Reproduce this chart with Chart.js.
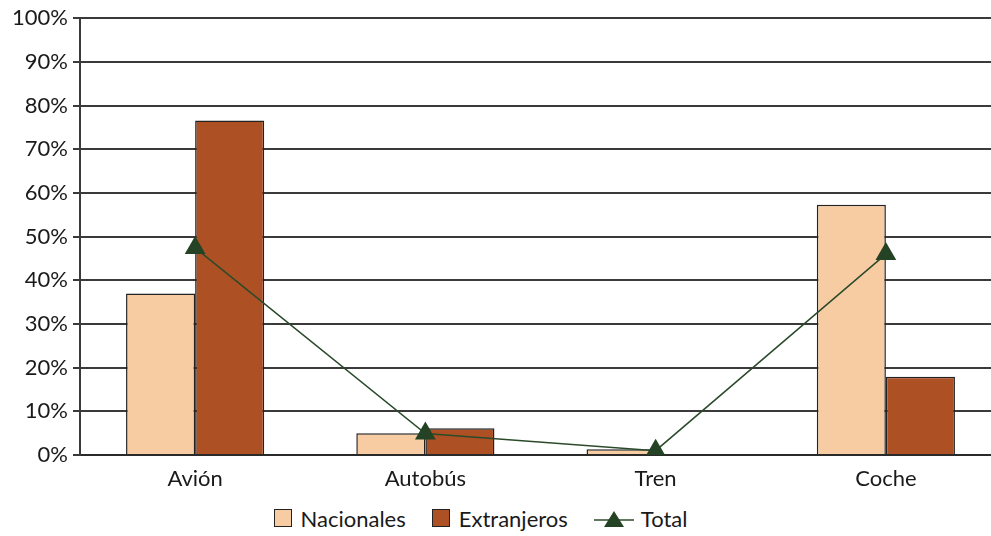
<!DOCTYPE html>
<html>
<head>
<meta charset="utf-8">
<script src="https://cdn.jsdelivr.net/npm/chart.js@4/dist/chart.umd.min.js"></script>
<style>
  body { margin: 0; background: #fff; overflow: hidden; font-family: Lato, sans-serif; }
  #wrap { position: relative; width: 1013px; height: 500px; }
  #legend { display: flex; justify-content: center; align-items: center; width: 991px; height: 36px;
            padding-right: 30px; box-sizing: border-box; font-size: 22px; color: #1a1a1a; }
  .item { display: flex; align-items: center; margin: 0 13px; }
  .box { width: 16px; height: 16px; border: 1.5px solid #222; margin-right: 9px; }
</style>
</head>
<body>
<div id="wrap"><canvas id="chart"></canvas></div>
<div id="legend">
  <div class="item"><span class="box" style="background:#f7cca3"></span>Nacionales</div>
  <div class="item"><span class="box" style="background:#ad5024"></span>Extranjeros</div>
  <div class="item">
    <svg width="40" height="20" style="margin-right:7px">
      <line x1="0" y1="12" x2="40" y2="12" stroke="#2b4a2b" stroke-width="1.5"/>
      <polygon points="20,3 30,19 10,19" fill="#244224"/>
    </svg>Total</div>
</div>
<script>
var categories = ["Avión", "Autobús", "Tren", "Coche"];
var nacionales = [37, 5, 1.3, 57.3];
var extranjeros = [76.6, 6.1, 0, 17.9];
var total = [47.4, 4.9, 1, 46];
var yTicks = [0, 10, 20, 30, 40, 50, 60, 70, 80, 90, 100];

var ctx = document.getElementById('chart').getContext('2d');
new Chart(ctx, {
  type: 'bar',
  data: {
    labels: categories,
    datasets: [{
      type: 'line',
      label: 'Total',
      data: total,
      borderColor: '#2b4a2b',
      borderWidth: 1.5,
      pointStyle: 'triangle',
      pointRadius: 12,
      pointBackgroundColor: '#244224',
      pointBorderColor: '#244224',
      pointBorderWidth: 0,
      tension: 0,
      order: 0
    }, {
      label: 'Nacionales',
      data: nacionales,
      backgroundColor: '#f7cca3',
      borderColor: '#222',
      borderWidth: 1.5,
      borderSkipped: 'bottom',
      categoryPercentage: 0.6,
      barPercentage: 1.0,
      order: 1
    }, {
      label: 'Extranjeros',
      data: extranjeros,
      backgroundColor: '#ad5024',
      borderColor: '#222',
      borderWidth: 1.5,
      borderSkipped: 'bottom',
      categoryPercentage: 0.6,
      barPercentage: 1.0,
      order: 1
    }]
  },
  options: {
    responsive: true,
    maintainAspectRatio: false,
    animation: false,
    layout: { padding: { top: 17, right: 0, bottom: 0, left: 0 } },
    plugins: { legend: { display: false }, tooltip: { enabled: false } },
    scales: {
      x: {
        offset: true,
        grid: { display: false, drawTicks: false },
        border: { display: true, color: '#2a2a2a', width: 2 },
        ticks: { color: '#1a1a1a', font: { family: 'Lato', size: 22 }, padding: 11 },
        afterFit: function(s) { s.height = 45; }
      },
      y: {
        min: 0,
        max: 100,
        afterBuildTicks: function(s) { s.ticks = yTicks.map(function(v) { return { value: v }; }); },
        grid: { color: '#3a3a3a', lineWidth: 2, tickLength: 7, drawTicks: true },
        border: { display: true, color: '#3a3a3a', width: 2 },
        ticks: {
          color: '#1a1a1a',
          font: { family: 'Lato', size: 22 },
          padding: 5,
          callback: function(v) { return v + '%'; }
        },
        afterFit: function(s) { s.width = 80; }
      }
    }
  }
});
</script>
</body>
</html>
